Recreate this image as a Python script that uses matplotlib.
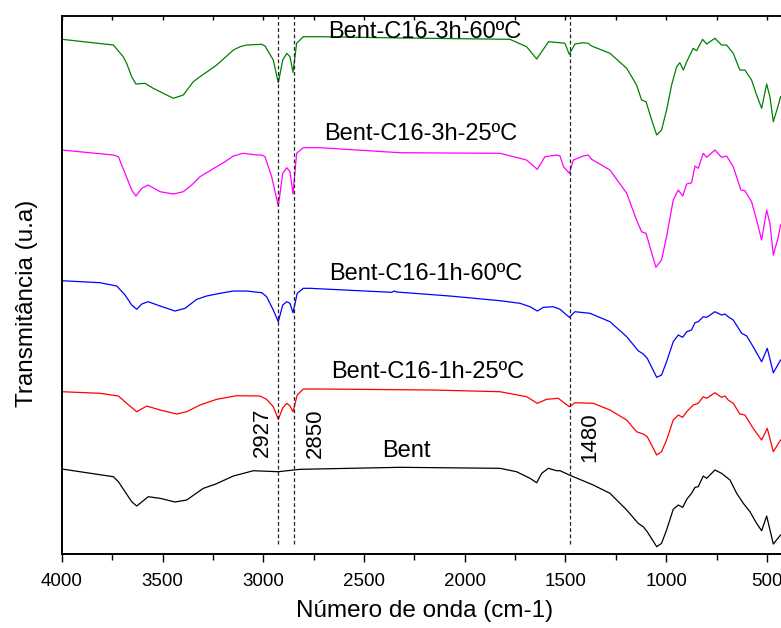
import matplotlib
matplotlib.use('Agg')
import matplotlib.pyplot as plt

plt.rcParams['font.family'] = ['Liberation Sans', 'DejaVu Sans']

# ---------------------------------------------------------------------------
# Дані (номер хвилі, см-1 / пропускання, відн. од. зі зсувом)
# ---------------------------------------------------------------------------
wn_bent = [4000, 3745, 3720, 3654, 3629, 3572, 3513, 3439, 3381, 3298, 3240, 3149, 3050,
           2926, 2818, 2322, 1825, 1743, 1676, 1643, 1618, 1585, 1544, 1527, 1481, 1362,
           1279, 1196, 1139, 1114, 1094, 1047, 1023, 998, 965, 940, 918, 898, 874, 857,
           841, 816, 799, 758, 725, 683, 650, 617, 584, 551, 526, 501, 468, 432]
t_bent = [85, 77.3, 72.3, 52.3, 48, 57.3, 55.7, 52, 54, 65.7, 69.7, 78, 83.3,
          82.3, 84.7, 86.7, 85.7, 82.3, 75.7, 71.3, 80.7, 85.7, 83.3, 83.3, 79, 69,
          60.7, 44, 30.7, 27.3, 22.3, 7.3, 10.7, 24, 44.7, 49, 46.7, 54.7, 60.7, 66.7,
          67.3, 78, 75.7, 84, 80.7, 74, 60.7, 50.7, 42.3, 30.7, 23.3, 38, 10, 19]

wn_1h25 = [4000, 3811, 3720, 3679, 3629, 3579, 3513, 3430, 3381, 3315, 3232, 3133, 3017,
           2984, 2951, 2926, 2904, 2884, 2868, 2853, 2832, 2802, 2719, 2157, 1825, 1693,
           1640, 1594, 1536, 1481, 1453, 1362, 1279, 1196, 1147, 1114, 1094, 1047, 1023,
           998, 965, 940, 918, 898, 866, 841, 816, 799, 758, 725, 708, 692, 667, 634, 609,
           568, 526, 498, 468, 432]
t_1h25 = [162.3, 160.7, 158, 150.7, 142.3, 148, 144, 140, 142.3, 149, 154.7, 158.3, 158,
          154.7, 147.3, 134.7, 146, 150.7, 148, 142.3, 159, 165, 165, 164, 162.3, 157.3,
          150.7, 154.7, 155.7, 147.3, 151.3, 150.7, 144, 134, 122.3, 120, 117.3, 99, 102.3,
          114, 134, 139, 136.7, 142.3, 149, 150.7, 157.3, 155.7, 161.3, 156.7, 158, 154, 150.7,
          140, 139, 125.7, 114, 125.7, 102.3, 114]

wn_1h60 = [4000, 3811, 3728, 3687, 3654, 3629, 3604, 3572, 3513, 3439, 3389, 3331, 3282,
           3216, 3149, 3083, 3008, 2984, 2951, 2926, 2904, 2884, 2868, 2853, 2832, 2802,
           2769, 2363, 2350, 2338, 2074, 1825, 1726, 1676, 1640, 1610, 1561, 1527, 1481,
           1453, 1378, 1279, 1196, 1139, 1114, 1094, 1047, 1023, 998, 965, 940, 918, 898,
           874, 857, 841, 816, 799, 758, 725, 708, 692, 667, 625, 600, 568, 526, 498, 468, 432]
t_1h60 = [273.3, 271.3, 268, 259, 249, 244.7, 250, 252.3, 248, 243, 245.7, 254.7, 258,
          260.7, 263, 263, 261.3, 257.3, 244, 232.3, 249, 252.3, 250.7, 241.3, 260.7, 265.7,
          265.7, 261.7, 263, 262, 258, 253.3, 250.7, 247.3, 243, 246.7, 247.3, 244.7, 236.7,
          242.3, 240.7, 232.3, 217.3, 203.3, 200, 195.7, 176.7, 179, 192.3, 212.3, 219, 216.7, 222.3,
          224, 231.3, 232.3, 237.3, 236.7, 242.3, 239, 240, 237.3, 234, 220.7, 218, 207.3, 192.3, 205.7, 181.3, 194]

wn_3h25 = [4000, 3745, 3720, 3687, 3654, 3633, 3604, 3572, 3513, 3447, 3398, 3356, 3315,
           3274, 3232, 3191, 3149, 3100, 3033, 3008, 2992, 2959, 2926, 2904, 2884, 2868,
           2853, 2835, 2802, 2719, 2322, 1825, 1693, 1640, 1602, 1544, 1527, 1510, 1481,
           1461, 1412, 1387, 1370, 1279, 1196, 1147, 1122, 1100, 1081, 1051, 1023, 998, 965,
           940, 918, 898, 874, 857, 841, 816, 799, 758, 725, 700, 667, 629, 609, 576, 551,
           526, 501, 485, 468, 443, 432]
t_3h25 = [404, 399, 397.3, 380.7, 364, 358, 365.7, 369, 362.3, 360, 362.3, 369, 377.3,
          382.3, 387.3, 392.3, 398, 400.7, 399, 399, 397.3, 377.3, 348, 380.7, 386.3, 382.3,
          360, 400.7, 406.3, 406.3, 401.3, 400.7, 394, 384.7, 397.3, 399, 398, 387.3, 380.7,
          394, 398, 399, 394.7, 384, 360.7, 334, 322.3, 320.7, 307.3, 286.7, 294, 317.3, 354,
          364, 358, 370, 371.3, 388, 385.7, 400.7, 396.7, 404, 396.7, 398, 387.3, 364, 363.3, 352.3, 334,
          314, 344, 330.7, 299, 317.3, 329]

wn_3h60 = [4000, 3745, 3696, 3679, 3654, 3633, 3588, 3547, 3447, 3398, 3348, 3315, 3274,
           3232, 3149, 3116, 3083, 3008, 2992, 2951, 2926, 2904, 2884, 2868, 2853, 2835,
           2802, 2719, 2300, 1776, 1693, 1643, 1584, 1527, 1503, 1481, 1453, 1412, 1387,
           1370, 1279, 1196, 1147, 1122, 1100, 1072, 1047, 1023, 998, 973, 948, 932, 915,
           898, 866, 849, 819, 799, 758, 725, 700, 667, 634, 609, 576, 551, 526, 501, 485,
           468, 443, 432]
t_3h60 = [514.7, 509, 497.3, 490.7, 477.3, 470, 470.7, 465.7, 455.7, 459, 472.3, 477.3, 483,
          489, 504, 507.3, 509, 509.7, 508, 494, 471.3, 494, 500.7, 497.3, 481.7, 510.7,
          517.3, 517.3, 516, 514.7, 507.3, 495, 512.3, 511.3, 510.7, 499.7, 510, 511.3, 510.7,
          508, 500.7, 485.7, 469, 454, 452.3, 434, 419, 424, 444, 469, 487.3, 491.3, 484,
          492.3, 505.7, 503.3, 514.7, 510, 515.7, 509, 509, 500.7, 484, 484, 474, 459, 445.7, 470, 457.3,
          432.3, 449, 457.3]

series = [
    (wn_bent, t_bent, 'black'),
    (wn_1h25, t_1h25, '#ff0000'),
    (wn_1h60, t_1h60, '#0000ff'),
    (wn_3h25, t_3h25, '#ff00ff'),
    (wn_3h60, t_3h60, '#008000'),
]

# назви зразків: (текст, номер хвилі центру, рівень базової лінії тексту)
names = [
    ('Bent', 2291, 97),
    ('Bent-C16-1h-25ºC', 2184, 176),
    ('Bent-C16-1h-60ºC', 2194, 274),
    ('Bent-C16-3h-25ºC', 2217, 414),
    ('Bent-C16-3h-60ºC', 2200, 516),
]

bands = [2927, 2850, 1480]
band_text = [(3005, 97, '2927'), (2742, 96, '2850'), (1381, 92, '1480')]

# ---------------------------------------------------------------------------
fig = plt.figure(figsize=(7.81, 6.28), dpi=100)
ax = fig.add_axes([0.0794, 0.1178, 0.9283, 0.8567])

for wn, t, c in series:
    ax.plot(wn, t, color=c, lw=0.9)

ax.vlines(bands, 10, 538, colors='#222222', linestyles=(0, (3, 2)), lw=0.9)

for txt, x, y in names:
    ax.text(x, y, txt, ha='center', va='baseline', fontsize=17)
for x, y, txt in band_text:
    ax.text(x, y, txt, rotation=90, ha='center', va='bottom', fontsize=16)

ax.set_xlim(4000, 400)
ax.set_ylim(0, 538)
ax.set_xticks([4000, 3500, 3000, 2500, 2000, 1500, 1000, 500])
ax.set_xticks(range(3750, 400, -500), minor=True)
ax.set_yticks([])
ax.tick_params(axis='x', which='major', direction='out', length=6, width=1, pad=8, labelsize=13.5)
ax.tick_params(axis='x', which='minor', direction='out', length=4, width=1)
for s in ['left', 'bottom']:
    ax.spines[s].set_linewidth(1.4)
ax.spines['top'].set_linewidth(1.1)
ax.spines['right'].set_visible(False)

top = ax.secondary_xaxis('top')
top.set_xticks([4000, 3500, 3000, 2500, 2000, 1500, 1000, 500])
top.set_xticks(range(3750, 400, -500), minor=True)
top.tick_params(which='both', direction='in', length=3, width=1, labeltop=False)
top.spines['top'].set_linewidth(1.1)

ax.set_xlabel('Número de onda (cm-1)', fontsize=17.5, labelpad=7)
ax.set_ylabel('Transmitância (u.a)', fontsize=17.5)
ax.yaxis.set_label_coords(-0.033, 0.4665)

plt.savefig('out.png', dpi=100)
plt.close()
